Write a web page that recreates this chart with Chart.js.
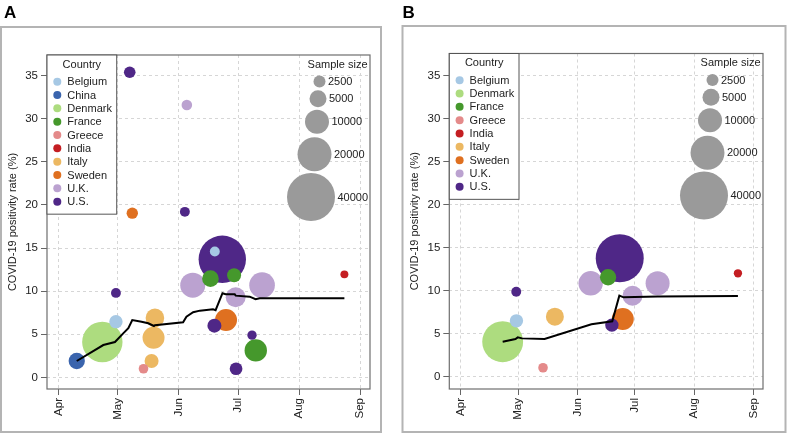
<!DOCTYPE html>
<html>
<head>
<meta charset="utf-8">
<script src="https://cdn.jsdelivr.net/npm/chart.js@4.4.1/dist/chart.umd.min.js"></script>
<style>
  html, body { margin: 0; padding: 0; background: #fff; }
  #wrap { position: relative; width: 787px; height: 433px; }
  canvas { position: absolute; left: 0; top: 0; }
</style>
</head>
<body>
<div id="wrap">
  <canvas id="chartA" width="787" height="433"></canvas>
  <canvas id="chartB" width="787" height="433"></canvas>
</div>
<script>
// x axis: days counted from 1 April 2020
const monthLabels = ['Apr', 'May', 'Jun', 'Jul', 'Aug', 'Sep']
const monthDays = [0, 30, 61, 91, 122, 153]
const rateTicks = [0, 5, 10, 15, 20, 25, 30, 35]
const sizeLegend = [2500, 5000, 10000, 20000, 40000]

// panel A - all studies
const countriesA = ['Belgium', 'China', 'Denmark', 'France', 'Greece', 'India', 'Italy', 'Sweden', 'U.K.', 'U.S.']
const studyCountryA = ['U.S.', 'U.K.', 'Sweden', 'U.S.', 'U.S.', 'Belgium', 'U.K.', 'France', 'France', 'U.K.', 'U.K.', 'India', 'U.S.',
  'Belgium', 'Denmark', 'China', 'Italy', 'Italy', 'Italy', 'Greece', 'Sweden', 'U.S.', 'U.S.', 'France', 'U.S.']
const studyDayA = [36, 65, 37.3, 64, 83, 79.2, 68, 77, 89, 103.2, 89.8, 145, 29, 29, 22.1, 9.1, 48.8, 48.1, 47.1, 43, 84.9, 79, 98.1, 100, 90]
const studyRateA = [35.4, 31.6, 19.05, 19.2, 13.7, 14.6, 10.7, 11.45, 11.85, 10.7, 9.3, 11.95, 9.8, 6.46, 4.1, 1.9, 6.9, 4.6, 1.9, 1.0, 6.65, 6.0, 4.9, 3.13, 1.0]
const studySizeA = [2350, 1950, 2250, 1700, 39000, 1700, 10850, 4800, 3400, 11400, 6900, 1100, 1700, 3100, 28300, 4600, 6000, 8400, 3400, 1600, 8400, 3400, 1500, 8700, 2800]
const pooledDayA = [9.1, 22.6, 28.5, 32.7, 35.3, 37.3, 42, 45.4, 48.3, 48.8, 63.1, 64.8, 68.2, 71.6, 78.3, 79.6, 83.1, 84.7, 89.3, 89.8, 96.9, 99.9, 102, 145]
const pooledRateA = [1.9, 3.75, 4.1, 5.1, 5.7, 6.65, 6.46, 6.27, 5.96, 6.05, 6.39, 7.04, 7.55, 7.74, 7.9, 7.8, 9.76, 9.65, 9.64, 9.48, 9.36, 9.06, 9.17, 9.17]

// panel B - subset of studies
const countriesB = ['Belgium', 'Denmark', 'France', 'Greece', 'India', 'Italy', 'Sweden', 'U.K.', 'U.S.']
const studyCountryB = ['U.S.', 'U.K.', 'France', 'U.K.', 'U.K.', 'India', 'U.S.', 'Belgium', 'Italy', 'Sweden', 'U.S.', 'Denmark', 'Greece']
const studyDayB = [83.1, 67.9, 77, 102.9, 89.8, 144.9, 29, 29.1, 49.2, 84.7, 79, 21.9, 43]
const studyRateB = [13.77, 10.86, 11.56, 10.86, 9.42, 12.02, 9.88, 6.5, 6.98, 6.7, 6.0, 4.07, 1.05]
const studySizeB = [40000, 10300, 4600, 10000, 6900, 1200, 1700, 3100, 5600, 8400, 3100, 29000, 1600]
const pooledDayB = [21.9, 28.6, 29.8, 32, 43.8, 68.3, 79.2, 82.9, 85.1, 102.9, 144.9]
const pooledRateB = [4.07, 4.38, 4.58, 4.46, 4.38, 6.09, 6.45, 9.42, 9.23, 9.32, 9.38]

const countryColors = {
  'Belgium': '#a6c8e4', 'China': '#3a64ad', 'Denmark': '#addc7f', 'France': '#45982c', 'Greece': '#e48a8a',
  'India': '#c41e22', 'Italy': '#ecb862', 'Sweden': '#df7020', 'U.K.': '#bba2d0', 'U.S.': '#4f2787'
}

const fontFamily = '"Liberation Sans", Arial, Helvetica, sans-serif'
const textColor = '#222'
const bubbleR = n => 0.12 * Math.sqrt(n)

function makeChart(id, p) {
  // big bubbles first so the small ones stay visible
  const idx = p.size.map((_, i) => i).sort((a, b) => p.size[b] - p.size[a])
  const bubbles = idx.map(i => ({ x: p.day[i], y: p.rate[i], r: bubbleR(p.size[i]) }))
  const colors = idx.map(i => countryColors[p.country[i]])
  const pooled = p.lineDay.map((d, i) => ({ x: d, y: p.lineRate[i] }))

  const decor = {
    id: 'decor',
    beforeDraw(chart) {
      const ctx = chart.ctx
      ctx.save()
      ctx.strokeStyle = '#b4b4b4'
      ctx.lineWidth = 2
      ctx.strokeRect(p.outer[0], p.outer[1], p.outer[2] - p.outer[0], p.outer[3] - p.outer[1])
      ctx.fillStyle = '#000'
      ctx.font = 'bold 17px ' + fontFamily
      ctx.textBaseline = 'alphabetic'
      ctx.fillText(p.letter, p.letterX, 17.5)
      ctx.restore()
    },
    afterDraw(chart) {
      const ctx = chart.ctx
      const { left, top, right, bottom } = chart.chartArea
      ctx.save()
      ctx.strokeStyle = '#6e6e6e'
      ctx.lineWidth = 1.2
      ctx.strokeRect(left, top, right - left, bottom - top)

      // country legend
      const names = p.countries
      const h = 26.7 + (names.length - 1) * 13.33 + 12.5
      ctx.fillStyle = '#fff'
      ctx.fillRect(left, top, 69.7, h)
      ctx.strokeStyle = '#555'
      ctx.lineWidth = 1
      ctx.strokeRect(left, top, 69.7, h)
      ctx.font = '11px ' + fontFamily
      ctx.textBaseline = 'middle'
      ctx.textAlign = 'center'
      ctx.fillStyle = textColor
      ctx.fillText('Country', left + 34.85, top + 9.5)
      ctx.textAlign = 'left'
      names.forEach((n, i) => {
        const y = top + 26.7 + i * 13.33
        ctx.fillStyle = countryColors[n]
        ctx.beginPath()
        ctx.arc(left + 10.3, y, 4, 0, Math.PI * 2)
        ctx.fill()
        ctx.fillStyle = textColor
        ctx.fillText(n, left + 20.3, y + 0.5)
      })

      // sample size legend
      ctx.textAlign = 'right'
      ctx.fillText('Sample size', right - 2.5, top + 9.5)
      const cxs = [-50.5, -52, -53, -55.5, -59]
      const cys = [26.5, 43.7, 66.7, 99.2, 142]
      ctx.textAlign = 'left'
      sizeLegend.forEach((s, i) => {
        const r = bubbleR(s)
        const cx = right + cxs[i]
        const cy = top + cys[i]
        ctx.fillStyle = '#9a9a9a'
        ctx.beginPath()
        ctx.arc(cx, cy, r, 0, Math.PI * 2)
        ctx.fill()
        ctx.fillStyle = textColor
        ctx.fillText(String(s), cx + r + 2.5, cy + 0.5)
      })
      ctx.restore()
    }
  }

  const tickFont = { size: 11.5, family: fontFamily }

  return new Chart(document.getElementById(id), {
    type: 'bubble',
    data: {
      datasets: [
        { type: 'line', data: pooled, borderColor: '#000', borderWidth: 2, pointRadius: 0, tension: 0, fill: false, order: 0 },
        { data: bubbles, backgroundColor: colors, borderWidth: 0, order: 1 }
      ]
    },
    options: {
      responsive: false,
      animation: false,
      devicePixelRatio: 1,
      events: [],
      layout: { padding: { left: p.box[0] - 47, top: p.box[1], right: 787 - p.box[2], bottom: 0 } },
      plugins: { legend: { display: false }, tooltip: { enabled: false } },
      scales: {
        x: {
          type: 'linear',
          min: -6,
          max: 158,
          afterBuildTicks: s => { s.ticks = monthDays.map(v => ({ value: v })) },
          afterFit: s => { s.height = 433 - p.box[3] },
          ticks: {
            callback: (v, i) => monthLabels[i],
            minRotation: 90, maxRotation: 90, autoSkip: false,
            padding: 3, color: textColor, font: tickFont
          },
          grid: { color: '#d6d6d6', tickColor: '#666', tickLength: 6, lineWidth: 1 },
          border: { display: false, dash: [3, 3] }
        },
        y: {
          type: 'linear',
          min: p.yMin,
          max: p.yMax,
          afterBuildTicks: s => { s.ticks = rateTicks.map(v => ({ value: v })) },
          afterFit: s => { s.width = 47 },
          ticks: { padding: 3, color: textColor, font: tickFont },
          grid: { color: '#d6d6d6', tickColor: '#666', tickLength: 6, lineWidth: 1 },
          border: { display: false, dash: [3, 3] },
          title: {
            display: true,
            text: 'COVID-19 positivity rate (%)',
            color: textColor,
            font: { size: 11, family: fontFamily, lineHeight: 1.2 },
            padding: { top: 6, bottom: 0 }
          }
        }
      }
    },
    plugins: [decor]
  })
}

makeChart('chartA', {
  letter: 'A', letterX: 4, outer: [1, 27, 381, 432],
  box: [47, 55, 370, 389], yMin: -1.35, yMax: 37.4,
  countries: countriesA, country: studyCountryA, day: studyDayA, rate: studyRateA, size: studySizeA,
  lineDay: pooledDayA, lineRate: pooledRateA
})

makeChart('chartB', {
  letter: 'B', letterX: 402.5, outer: [402.5, 26, 785.5, 432],
  box: [449.3, 53.5, 775, 389], yMin: -1.42, yMax: 37.55,
  countries: countriesB, country: studyCountryB, day: studyDayB, rate: studyRateB, size: studySizeB,
  lineDay: pooledDayB, lineRate: pooledRateB
})
</script>
</body>
</html>
